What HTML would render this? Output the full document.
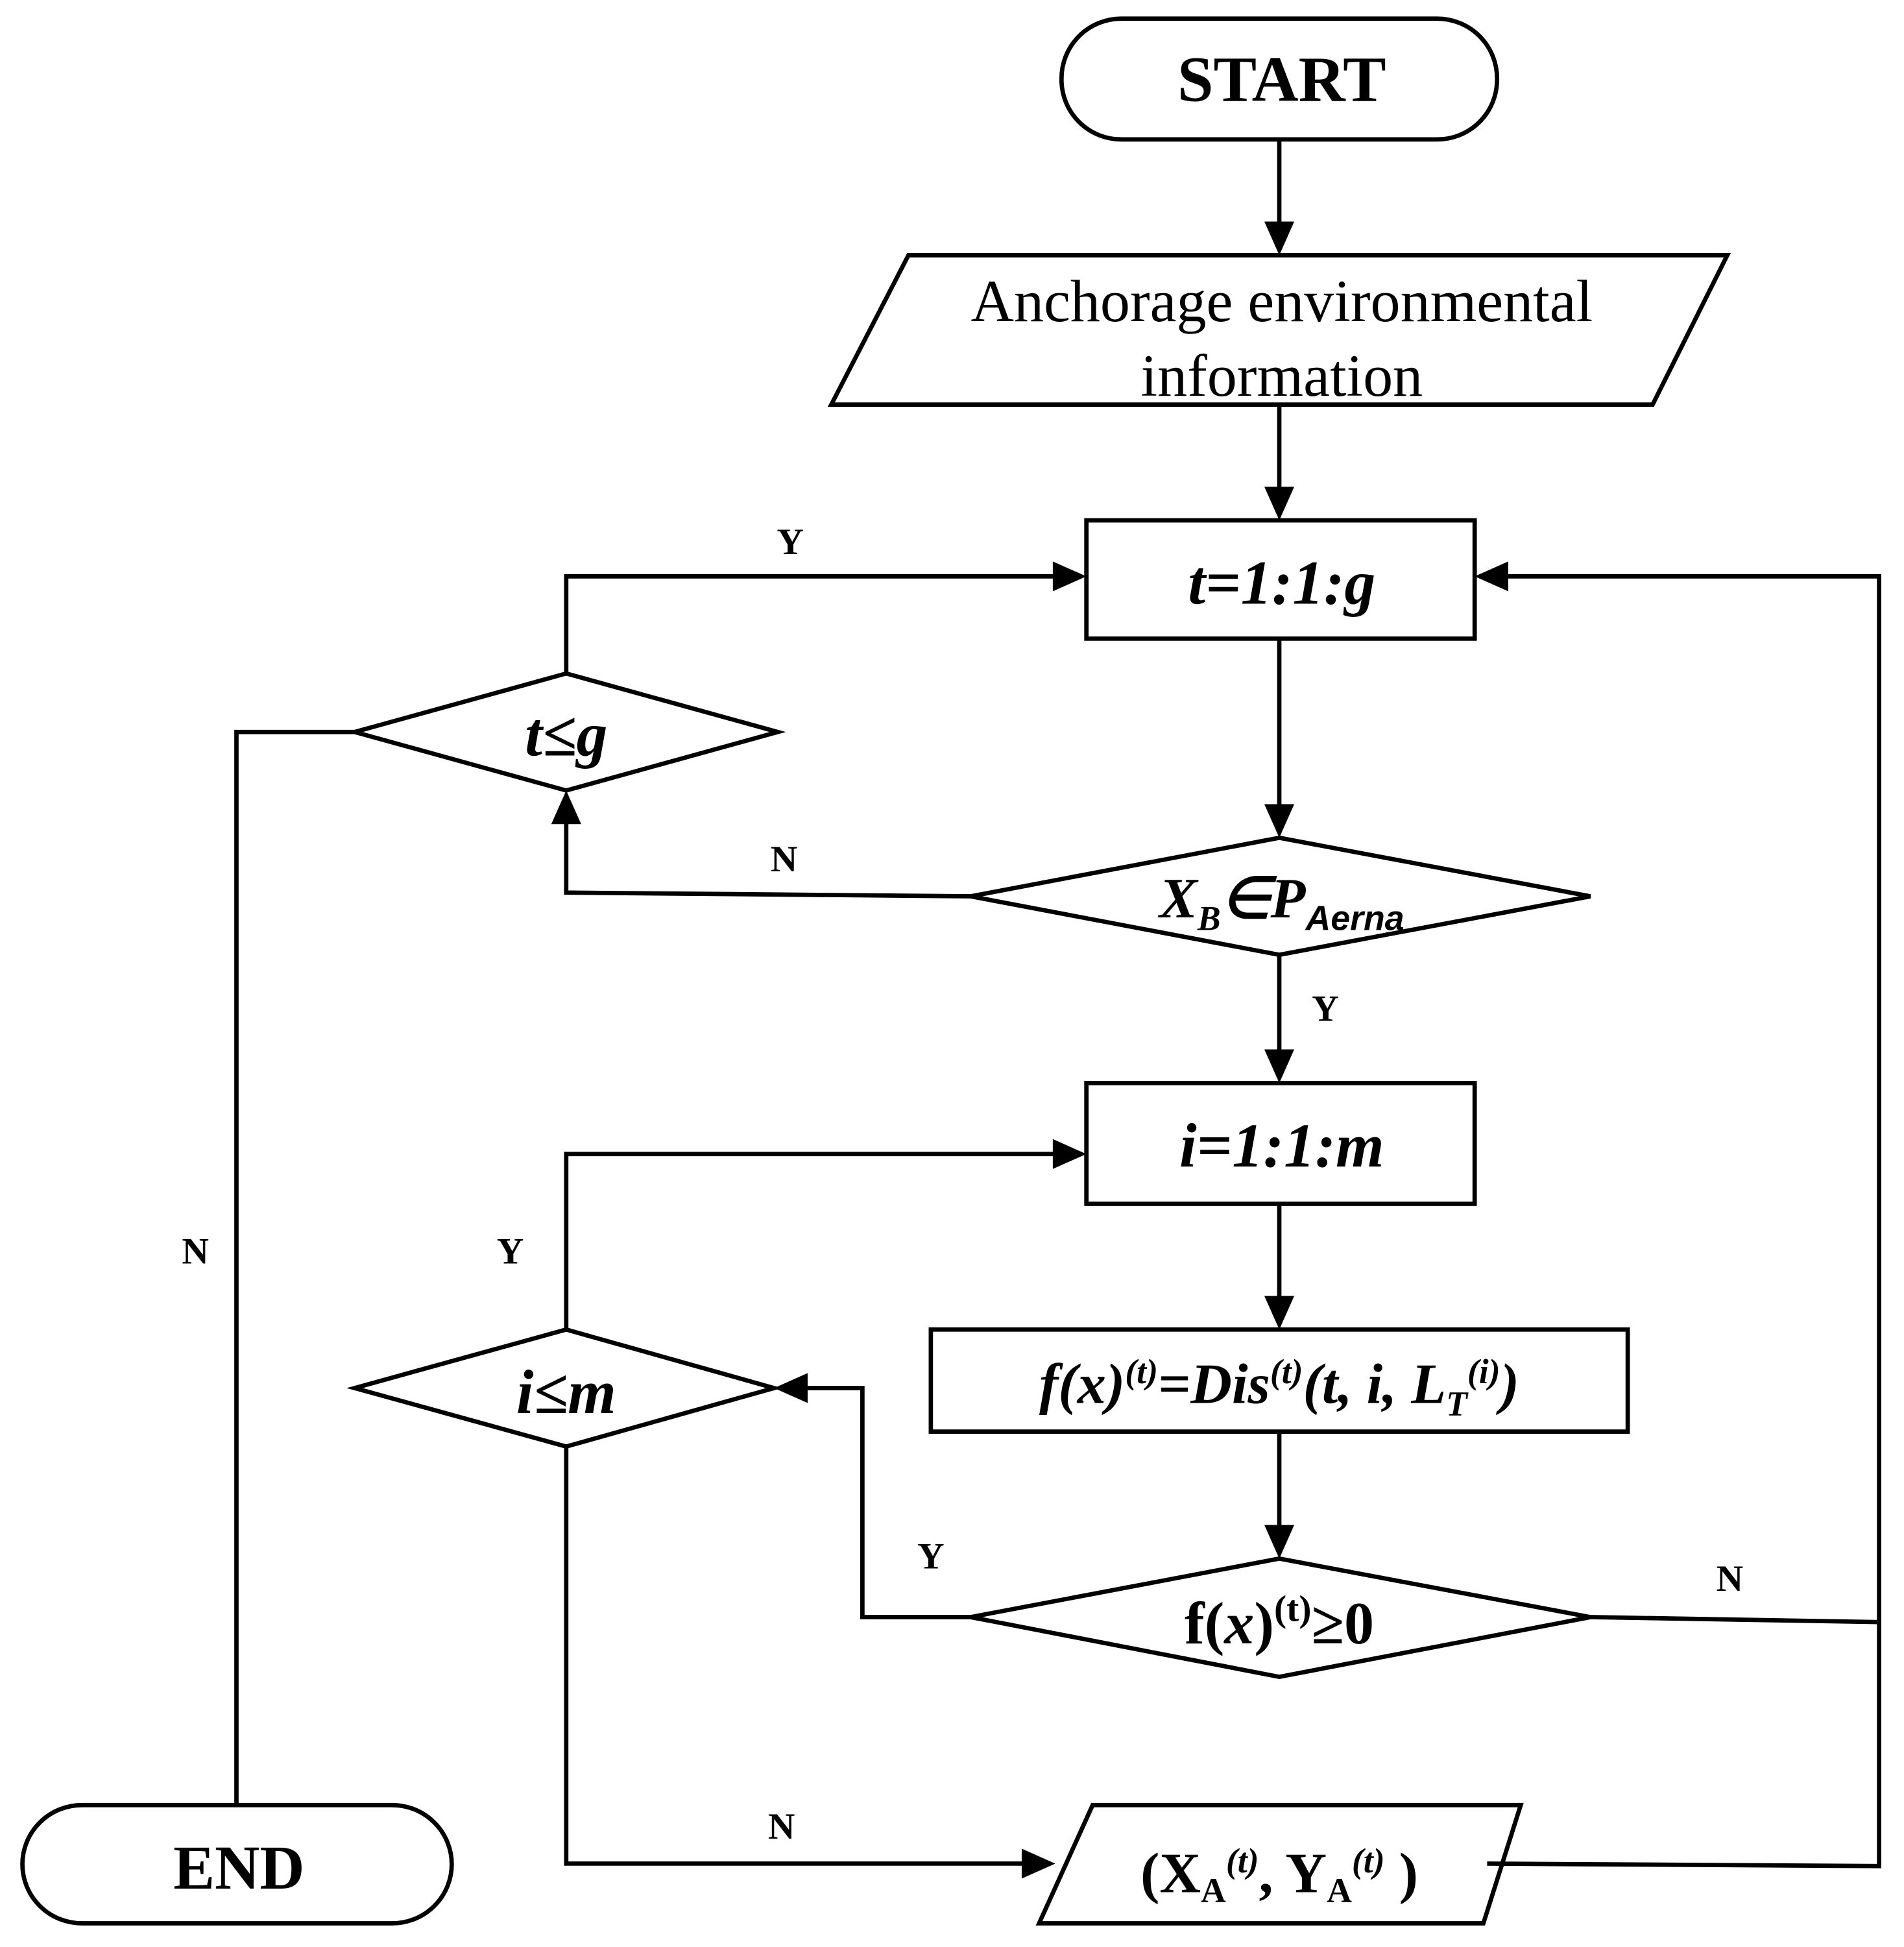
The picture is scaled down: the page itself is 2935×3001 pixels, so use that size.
<!DOCTYPE html>
<html><head><meta charset="utf-8"><style>
html,body{margin:0;padding:0;background:#fff;}
svg{display:block;}
text{font-family:"Liberation Serif",serif;font-weight:bold;fill:#000;}
text.n{font-weight:normal;}
</style></head><body>
<svg width="2935" height="3001" viewBox="0 0 1530 1564" preserveAspectRatio="none" xmlns="http://www.w3.org/2000/svg">
<g fill="none" stroke="#000" stroke-width="3.5">
<rect x="853" y="15" width="350" height="97" rx="48"/>
<polygon points="730,205 1388,205 1328,325 668,325"/>
<rect x="873" y="418" width="312" height="95"/>
<polygon points="780,720 1028,673 1278,720 1028,767"/>
<polygon points="285,588 455,541 625,588 455,635"/>
<rect x="873" y="870" width="312" height="97"/>
<rect x="748" y="1068" width="560" height="82"/>
<polygon points="780,1299 1028,1252 1278,1299 1028,1347"/>
<polygon points="285,1115 455,1068 622,1115 455,1162"/>
<polygon points="878,1450 1222,1450 1192,1545 835,1545"/>
<rect x="18" y="1450" width="345" height="95" rx="48"/>
<line x1="1028" y1="112" x2="1028" y2="180"/>
<line x1="1028" y1="325" x2="1028" y2="393"/>
<line x1="1028" y1="513" x2="1028" y2="648"/>
<polyline points="780,720 455,717 455,660"/>
<polyline points="455,541 455,463 848,463"/>
<polyline points="285,588 190,588 190,1450"/>
<line x1="1028" y1="767" x2="1028" y2="845"/>
<line x1="1028" y1="967" x2="1028" y2="1043"/>
<line x1="1028" y1="1150" x2="1028" y2="1227"/>
<polyline points="780,1299 693,1299 693,1115 647,1115"/>
<polyline points="455,1068 455,927 848,927"/>
<polyline points="455,1162 455,1497 823,1497"/>
<polyline points="1278,1299 1510,1303"/>
<polyline points="1195,1497 1510,1499 1510,463 1210,463"/>
</g>
<g fill="#000">
<polygon points="1028,205 1016,178 1040,178"/>
<polygon points="1028,418 1016,391 1040,391"/>
<polygon points="1028,673 1016,646 1040,646"/>
<polygon points="455,635 443,662 467,662"/>
<polygon points="873,463 846,451 846,475"/>
<polygon points="1028,870 1016,843 1040,843"/>
<polygon points="1028,1068 1016,1041 1040,1041"/>
<polygon points="1028,1252 1016,1225 1040,1225"/>
<polygon points="622,1115 649,1103 649,1127"/>
<polygon points="873,927 846,915 846,939"/>
<polygon points="848,1497 821,1485 821,1509"/>
<polygon points="1185,463 1212,451 1212,475"/>
</g>
<g text-anchor="middle">
<text x="1030" y="81" font-size="52">START</text>
<text class="n" x="1030" y="258" font-size="48">Anchorage environmental</text>
<text class="n" x="1030" y="318" font-size="48">information</text>
<text x="1030" y="485" font-size="50" font-style="italic">t=1:1:g</text>
<text x="455" y="607" font-size="50" font-style="italic">t≤g</text>
<text x="1030" y="737" font-size="46" font-style="italic">X<tspan font-size="28" dy="10">B</tspan><tspan dy="-10">∈P</tspan><tspan font-size="28" dy="10" font-family="Liberation Sans">Aerna</tspan></text>
<text x="1030" y="937" font-size="50" font-style="italic">i=1:1:m</text>
<text x="455" y="1135" font-size="50" font-style="italic">i≤m</text>
<text x="1028" y="1127" font-size="46" font-style="italic">f(x)<tspan font-size="28" dy="-16">(t)</tspan><tspan dy="16">=Dis</tspan><tspan font-size="28" dy="-16">(t)</tspan><tspan dy="16">(t,  i, L</tspan><tspan font-size="28" dy="10">T</tspan><tspan font-size="28" dy="-26">(i)</tspan><tspan dy="16">)</tspan></text>
<text x="1028" y="1320" font-size="48">f(<tspan font-style="italic">x</tspan>)<tspan font-size="30" dy="-18">(t)</tspan><tspan dy="18">≥0</tspan></text>
<text x="1028" y="1520" font-size="46">(X<tspan font-size="28" dy="8">A</tspan><tspan font-size="28" dy="-24" font-style="italic">(t)</tspan><tspan dy="16">, Y</tspan><tspan font-size="28" dy="8">A</tspan><tspan font-size="28" dy="-24" font-style="italic">(t)</tspan><tspan dy="16">   )</tspan></text>
<text x="192" y="1517" font-size="50">END</text>
<text x="635" y="445" font-size="30">Y</text>
<text x="630" y="700" font-size="30">N</text>
<text x="1065" y="820" font-size="30">Y</text>
<text x="157" y="1015" font-size="30">N</text>
<text x="410" y="1015" font-size="30">Y</text>
<text x="748" y="1260" font-size="30">Y</text>
<text x="1390" y="1278" font-size="30">N</text>
<text x="628" y="1477" font-size="30">N</text>
</g>
</svg>
</body></html>
